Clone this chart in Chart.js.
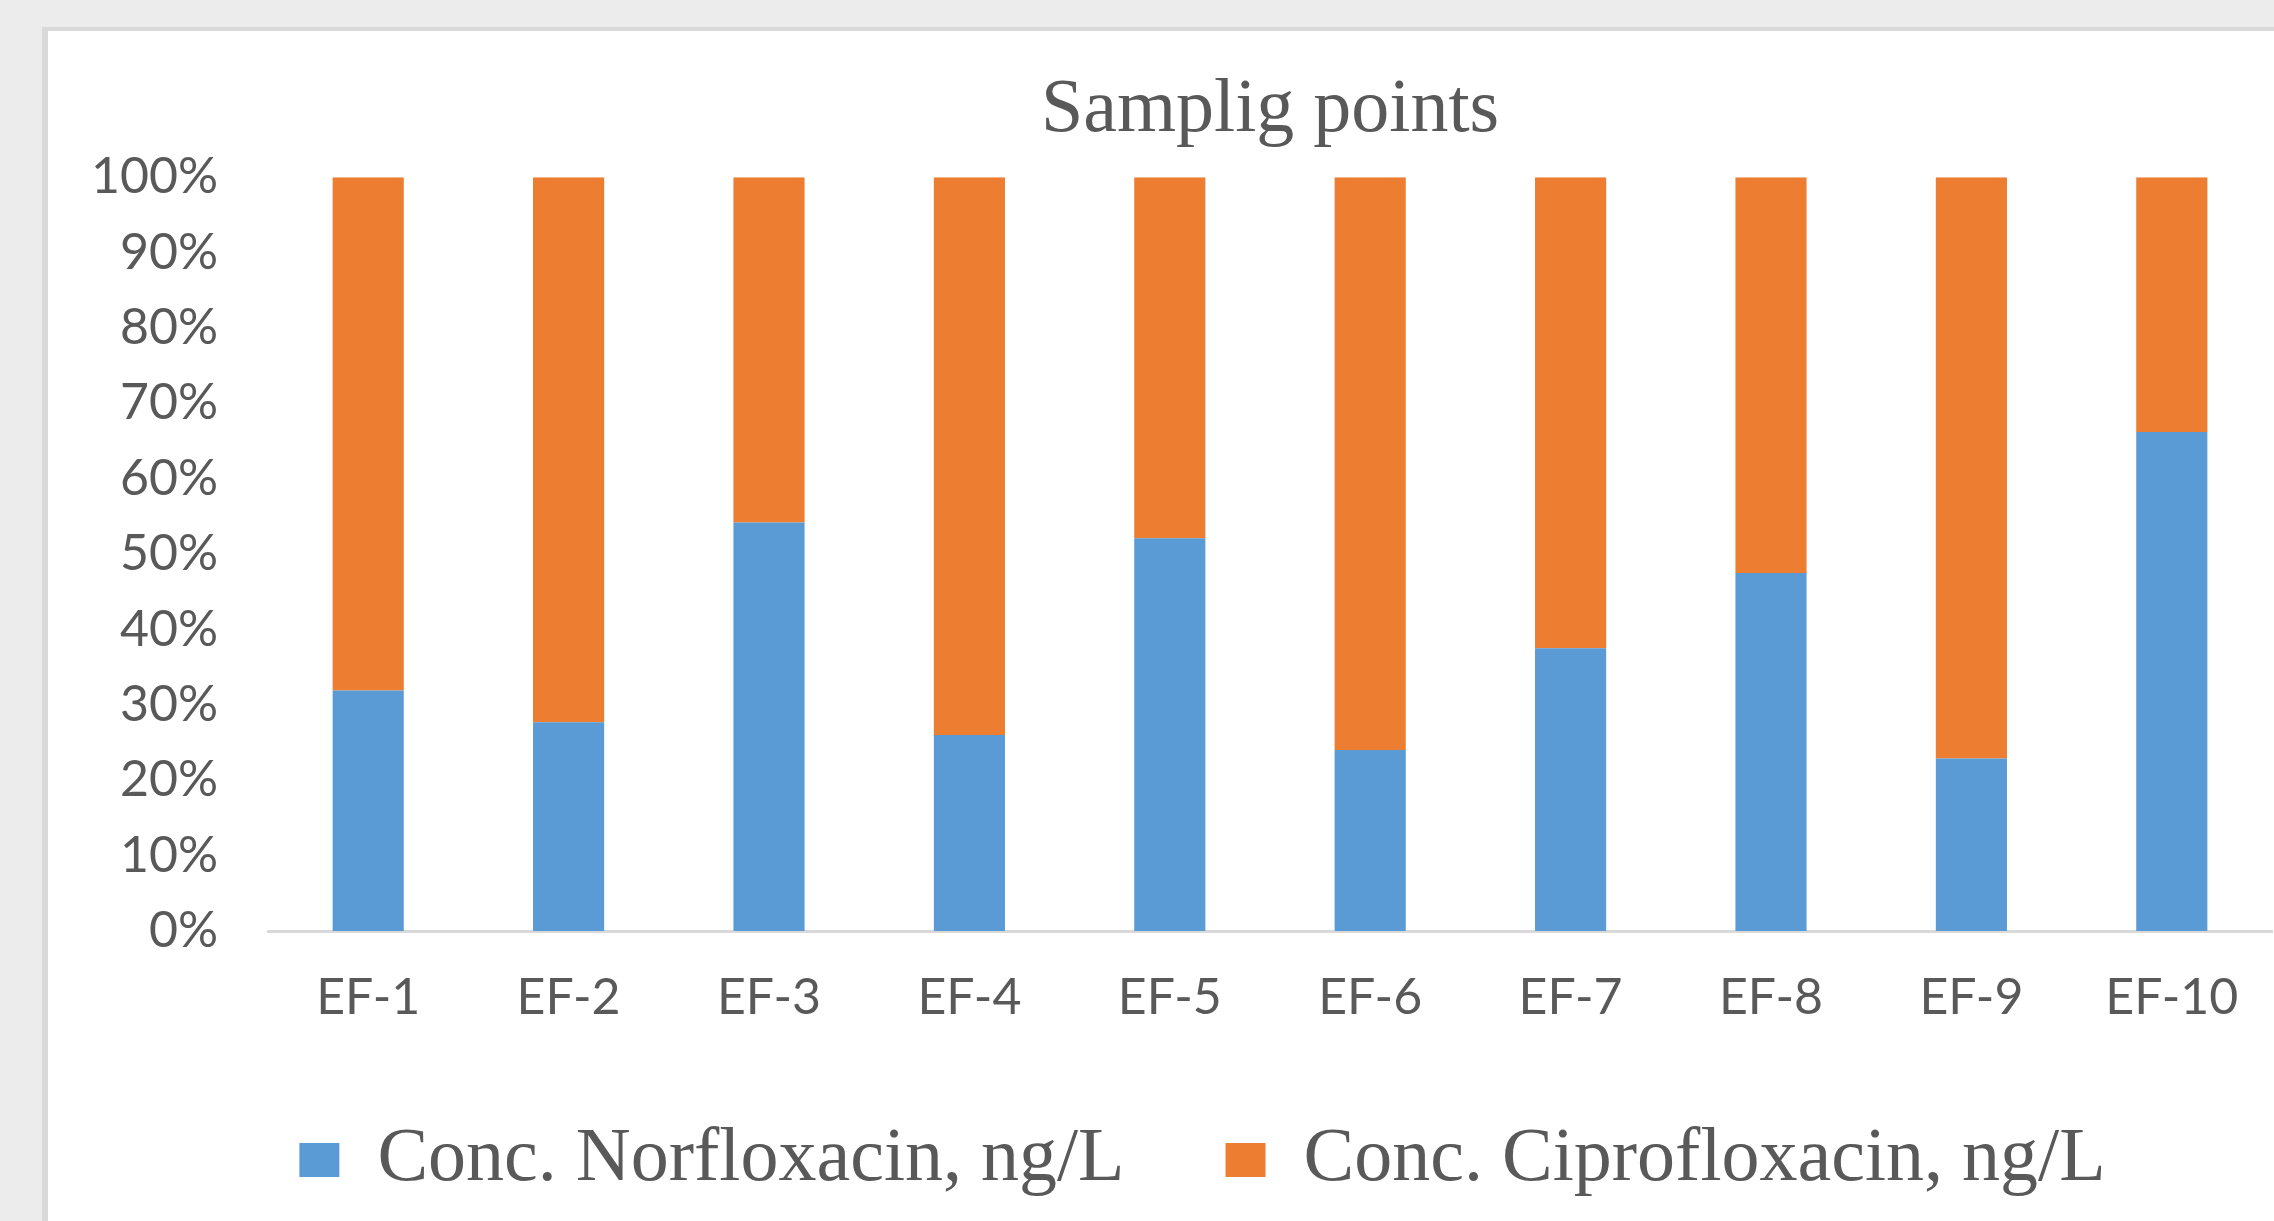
<!DOCTYPE html>
<html lang="en">
<head>
  <meta charset="UTF-8">
  <title>Samplig points</title>
  <script src="https://cdn.jsdelivr.net/npm/chart.js"></script>
  <style>
    html, body { margin: 0; padding: 0; overflow: hidden; background: #ececec; }
    #panel {
      position: absolute; left: 42px; top: 27px; width: 2400px; height: 1300px;
      background: #fff; border-left: 6px solid #d9d9d9; border-top: 4px solid #d9d9d9;
    }
    #wrap { position: absolute; left: 35px; top: 31px; }
  </style>
</head>
<body>
  <div id="panel"></div>
  <div id="wrap">
    <canvas id="chart" width="2335" height="1177" style="width:2335px;height:1177px"></canvas>
  </div>

  <script>
    const samplingPoints = ["EF-1", "EF-2", "EF-3", "EF-4", "EF-5", "EF-6", "EF-7", "EF-8", "EF-9", "EF-10"];
    // share of each sample, in %
    const norfloxacin = [31.9, 27.7, 54.2, 26.0, 52.1, 24.0, 37.5, 47.5, 22.9, 66.2];
    const ciprofloxacin = [68.1, 72.3, 45.8, 74.0, 47.9, 76.0, 62.5, 52.5, 77.1, 33.8];

    const grey = "#595959";
    const sans = "Lato, 'Open Sans', sans-serif";
    const serif = "'Liberation Serif', 'DejaVu Serif', serif";

    const ctx = document.getElementById("chart").getContext("2d");
    new Chart(ctx, {
      type: "bar",
      data: {
        labels: samplingPoints,
        datasets: [
          {
            label: "Conc. Norfloxacin, ng/L",
            data: norfloxacin,
            backgroundColor: "#5b9bd5",
            barPercentage: 0.355,
            categoryPercentage: 1
          },
          {
            label: "Conc. Ciprofloxacin, ng/L",
            data: ciprofloxacin,
            backgroundColor: "#ed7d31",
            barPercentage: 0.355,
            categoryPercentage: 1
          }
        ]
      },
      options: {
        responsive: false,
        animation: false,
        layout: { padding: 0 },
        plugins: {
          title: {
            display: true,
            text: "Samplig points",
            color: grey,
            fullSize: false,
            font: { family: serif, size: 76, weight: "normal" },
            padding: { top: 34, bottom: 21 }
          },
          legend: {
            position: "bottom",
            labels: {
              color: grey,
              font: { family: serif, size: 76 },
              boxWidth: 40,
              boxHeight: 34,
              padding: 101
            }
          },
          tooltip: { enabled: false }
        },
        scales: {
          x: {
            stacked: true,
            grid: { display: false, drawTicks: false },
            border: { color: "#d9d9d9", width: 3 },
            ticks: { color: grey, font: { family: sans, size: 50 }, padding: 37 },
            afterFit: s => { s.height = 90; }
          },
          y: {
            stacked: true,
            min: 0,
            max: 100,
            grid: { display: false, drawTicks: false },
            border: { display: false },
            ticks: {
              stepSize: 10,
              color: grey,
              font: { family: sans, size: 50 },
              padding: 50,
              callback: v => v + "%"
            },
            afterFit: s => { s.width = 233; }
          },
          // empty right margin so the legend centres like the original
          yRight: {
            position: "right",
            display: true,
            grid: { display: false },
            border: { display: false },
            ticks: { display: false },
            afterFit: s => { s.width = 98; }
          }
        }
      }
    });
  </script>
</body>
</html>
